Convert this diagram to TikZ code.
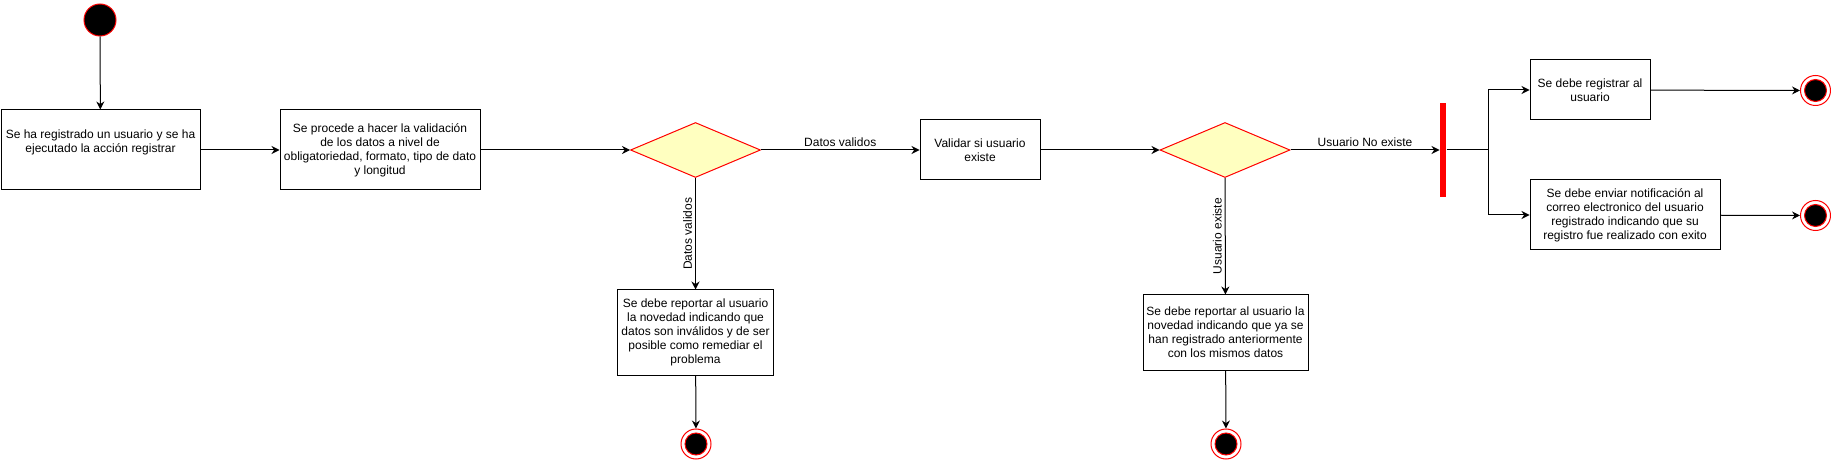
\documentclass[tikz,border=0pt]{standalone}
\usepackage{fontspec}
\setmainfont{Liberation Sans}
\usetikzlibrary{shapes.geometric,arrows.meta}

\definecolor{condfill}{HTML}{FFFFC0}

\begin{document}
\begin{tikzpicture}[x=1pt, y=-1pt, line width=1pt,
    font=\fontsize{12}{14}\selectfont,
    act/.style={draw, rectangle, align=center, inner sep=2pt},
    cond/.style={diamond, draw=red, fill=condfill, minimum width=130pt, minimum height=55pt, inner sep=0pt},
    startnode/.style={circle, fill=black, draw=red, minimum size=32pt, inner sep=0pt},
    endnode/.style={circle, draw=red, fill=white, minimum size=30pt, inner sep=0pt,
        path picture={\fill[black, draw=red] (path picture bounding box.center) circle (11pt);}},
    forkbar/.style={rectangle, fill=red, minimum width=6pt, minimum height=94pt, inner sep=0pt},
    flow/.style={-{Stealth[length=8pt, width=8pt]}},
    lbl/.style={midway, anchor=south, inner sep=3pt}]
    \useasboundingbox (0,0) rectangle (1831,462);

    % Start state
    \node[startnode] (inicio) at (100,20) {};

    % Activity boxes
    \node[act, minimum width=199pt, minimum height=80pt] (regis) at (100.5,150)
        {Se ha registrado un usuario y se ha\\ejecutado la acción registrar\\[3pt]};
    \node[act, minimum width=200pt, minimum height=80pt] (valida) at (380,150)
        {Se procede a hacer la validación\\de los datos a nivel de\\obligatoriedad, formato, tipo de dato\\y longitud};
    \node[act, minimum width=120pt, minimum height=60pt] (existe) at (980,150)
        {Validar si usuario\\existe};
    \node[act, minimum width=156pt, minimum height=85pt] (invalidos) at (695.5,332.5)
        {Se debe reportar al usuario\\la novedad indicando que\\datos son inválidos y de ser\\posible como remediar el\\problema};
    \node[act, minimum width=165pt, minimum height=75pt] (repetido) at (1225.5,332.5)
        {Se debe reportar al usuario la\\novedad indicando que ya se\\han registrado anteriormente\\con los mismos datos};
    \node[act, minimum width=120pt, minimum height=60pt] (registrar) at (1590,90)
        {Se debe registrar al\\usuario};
    \node[act, minimum width=190pt, minimum height=70pt] (notificar) at (1625,215)
        {Se debe enviar notificación al\\correo electronico del usuario\\registrado indicando que su\\registro fue realizado con exito};

    % Decisions and fork
    \node[cond] (cond1) at (695.5,150) {};
    \node[cond] (cond2) at (1225,150) {};
    \node[forkbar] (fork) at (1443,150) {};
    \coordinate (split) at (1488,150);

    % Final states
    \node[endnode] (fin1) at (696,444) {};
    \node[endnode] (fin2) at (1226,444) {};
    \node[endnode] (fin3) at (1815.5,90.5) {};
    \node[endnode] (fin4) at (1815.5,215.5) {};

    % Main flow
    \draw[flow] (inicio) -- (regis);
    \draw[flow] (regis) -- (valida);
    \draw[flow] (valida) -- (cond1);
    \draw[flow] (cond1) -- node[lbl] {Datos validos} (existe);
    \draw[flow] (existe) -- (cond2);
    \draw[flow] (cond2) -- node[lbl] {Usuario No existe} (fork);

    % Branches downward
    \draw[flow] (cond1) -- node[lbl, rotate=90] {Datos validos} (invalidos);
    \draw[flow] (cond2) -- node[lbl, rotate=90] {Usuario existe} (repetido);
    \draw[flow] (invalidos) -- (fin1);
    \draw[flow] (repetido) -- (fin2);

    % Fork outputs
    \draw (fork) -- (split);
    \draw[flow] (split) |- (registrar);
    \draw[flow] (split) |- (notificar);
    \draw[flow] (registrar) -- (fin3);
    \draw[flow] (notificar) -- (fin4);
\end{tikzpicture}
\end{document}
